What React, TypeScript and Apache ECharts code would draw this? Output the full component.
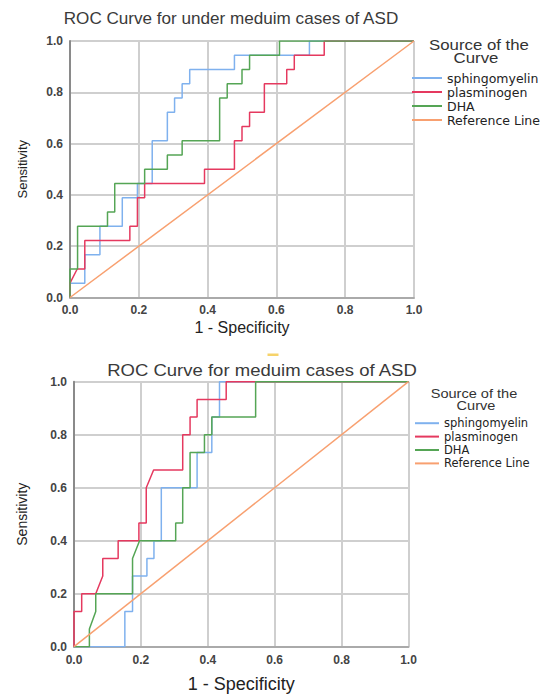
import React, { useEffect, useRef } from "react";
import * as echarts from "echarts";

// ---------- data ----------
const legendNames = ["sphingomyelin", "plasminogen", "DHA", "Reference Line"];
const tickStep = 0.2;

// Top chart: ROC Curve for under meduim cases of ASD  ([1 - specificity, sensitivity])
const underSphingomyelin: [number, number][] = [
  [0, 0], [0, 0.056], [0.043, 0.056], [0.043, 0.167], [0.087, 0.167], [0.087, 0.278],
  [0.152, 0.278], [0.152, 0.389], [0.196, 0.389], [0.196, 0.444], [0.239, 0.444],
  [0.239, 0.611], [0.283, 0.611], [0.283, 0.722], [0.304, 0.722], [0.304, 0.778],
  [0.326, 0.778], [0.326, 0.833], [0.348, 0.833], [0.348, 0.889], [0.478, 0.889],
  [0.478, 0.944], [0.696, 0.944], [0.696, 1], [1, 1],
];
const underPlasminogen: [number, number][] = [
  [0, 0], [0, 0.056], [0.021, 0.111], [0.043, 0.111], [0.043, 0.222], [0.174, 0.222],
  [0.174, 0.278], [0.196, 0.278], [0.196, 0.389], [0.217, 0.389], [0.217, 0.444],
  [0.391, 0.444], [0.391, 0.5], [0.478, 0.5], [0.478, 0.611], [0.5, 0.611], [0.5, 0.667],
  [0.522, 0.667], [0.522, 0.722], [0.565, 0.722], [0.565, 0.833], [0.63, 0.833],
  [0.63, 0.889], [0.652, 0.889], [0.652, 0.944], [0.739, 0.944], [0.739, 1], [1, 1],
];
const underDHA: [number, number][] = [
  [0, 0], [0, 0.111], [0.022, 0.111], [0.022, 0.278], [0.109, 0.278], [0.109, 0.333],
  [0.13, 0.333], [0.13, 0.444], [0.217, 0.444], [0.217, 0.5], [0.283, 0.5], [0.283, 0.556],
  [0.326, 0.556], [0.326, 0.611], [0.435, 0.611], [0.435, 0.778], [0.457, 0.778],
  [0.457, 0.833], [0.5, 0.833], [0.5, 0.889], [0.522, 0.889], [0.522, 0.944],
  [0.609, 0.944], [0.609, 1], [1, 1],
];

// Bottom chart: ROC Curve for meduim cases of ASD
const medSphingomyelin: [number, number][] = [
  [0, 0], [0.152, 0], [0.152, 0.133], [0.175, 0.133], [0.175, 0.267], [0.218, 0.267],
  [0.218, 0.333], [0.239, 0.333], [0.239, 0.4], [0.261, 0.4], [0.261, 0.6], [0.368, 0.6],
  [0.368, 0.733], [0.412, 0.733], [0.412, 0.867], [0.435, 0.867], [0.435, 1], [1, 1],
];
const medPlasminogen: [number, number][] = [
  [0, 0], [0, 0.133], [0.023, 0.133], [0.023, 0.2], [0.065, 0.2], [0.086, 0.267],
  [0.086, 0.333], [0.132, 0.333], [0.132, 0.4], [0.194, 0.4], [0.194, 0.467],
  [0.216, 0.467], [0.216, 0.6], [0.238, 0.667], [0.325, 0.667], [0.325, 0.8],
  [0.347, 0.8], [0.347, 0.867], [0.368, 0.867], [0.368, 0.933], [0.455, 0.933],
  [0.455, 1], [1, 1],
];
const medDHA: [number, number][] = [
  [0, 0], [0.046, 0], [0.046, 0.067], [0.065, 0.133], [0.065, 0.2], [0.175, 0.2],
  [0.175, 0.333], [0.196, 0.4], [0.304, 0.4], [0.304, 0.467], [0.325, 0.467],
  [0.325, 0.6], [0.347, 0.6], [0.347, 0.733], [0.39, 0.733], [0.39, 0.8], [0.412, 0.8],
  [0.412, 0.867], [0.543, 0.867], [0.543, 1], [1, 1],
];

const referenceLine: [number, number][] = [[0, 0], [1, 1]];

const seriesColors = ["#7fb1ee", "#e5395f", "#55a555", "#f8a070"];

const FONT = "Liberation Sans";

function makeX(gridIndex: number, nameGap: number, nameSize: number, labelMargin: number) {
  return {
    type: "value",
    gridIndex,
    min: 0,
    max: 1,
    interval: tickStep,
    name: "1 - Specificity",
    nameLocation: "middle",
    nameGap,
    nameTextStyle: { fontSize: nameSize, color: "#222", fontFamily: FONT },
    axisLine: { show: true, onZero: false, lineStyle: { color: "#aaaaaa", width: 2 } },
    axisTick: { show: false },
    axisLabel: {
      formatter: (v: number) => v.toFixed(1),
      margin: labelMargin,
      fontSize: 12,
      fontWeight: "bold",
      color: "#444",
      fontFamily: FONT,
    },
    splitLine: { show: true, lineStyle: { color: "#cfcfcf", width: 2 } },
  };
}

function makeY(gridIndex: number, nameGap: number, nameSize: number) {
  return {
    type: "value",
    gridIndex,
    min: 0,
    max: 1,
    interval: tickStep,
    name: "Sensitivity",
    nameLocation: "middle",
    nameGap,
    nameTextStyle: { fontSize: nameSize, color: "#222", fontFamily: FONT },
    axisLine: { show: true, onZero: false, lineStyle: { color: "#8a8a8a", width: 2 } },
    axisTick: { show: false },
    axisLabel: {
      formatter: (v: number) => v.toFixed(1),
      margin: 7,
      fontSize: 12,
      fontWeight: "bold",
      color: "#444",
      fontFamily: FONT,
    },
    splitLine: { show: true, lineStyle: { color: "#cfcfcf", width: 2 } },
  };
}

function makeSeries(name: string, data: [number, number][], idx: number, color: string) {
  return {
    type: "line",
    name,
    xAxisIndex: idx,
    yAxisIndex: idx,
    data,
    showSymbol: false,
    symbol: "none",
    lineStyle: { width: 1.5, color },
    itemStyle: { color },
    z: 3,
  };
}

function headerText(text: string, x: number, y: number, size: number, scaleX: number, color = "#333") {
  return {
    type: "text",
    x,
    y,
    scaleX,
    style: {
      text,
      fontSize: size,
      fontFamily: FONT,
      fill: color,
      align: "center",
      verticalAlign: "middle",
      textAlign: "center",
      textVerticalAlign: "middle",
    },
  };
}

export default function App() {
  const ref = useRef<HTMLDivElement>(null);

  useEffect(() => {
    if (!ref.current) return;
    const chart = echarts.init(ref.current, null, { renderer: "svg" });
    const topSets = [underSphingomyelin, underPlasminogen, underDHA, referenceLine];
    const botSets = [medSphingomyelin, medPlasminogen, medDHA, referenceLine];
    const series: any[] = [];
    topSets.forEach((d, i) => series.push(makeSeries(legendNames[i], d, 0, seriesColors[i])));
    botSets.forEach((d, i) => series.push(makeSeries(legendNames[i], d, 1, seriesColors[i])));

    chart.setOption({
      animation: false,
      backgroundColor: "#ffffff",
      grid: [
        { left: 70, top: 41, width: 344, height: 256.5 },
        { left: 74, top: 381.7, width: 334.5, height: 265 },
      ],
      xAxis: [makeX(0, 22, 16, 6), makeX(1, 28, 18, 7)],
      yAxis: [makeY(0, 41, 13), makeY(1, 45, 14)],
      legend: [
        {
          orient: "vertical",
          left: 412,
          top: 71,
          padding: 0,
          itemWidth: 30,
          itemHeight: 2,
          itemGap: 0,
          icon: "rect",
          selectedMode: false,
          textStyle: { fontSize: 12.5, fontFamily: "DejaVu Sans", color: "#222", lineHeight: 14 },
          data: legendNames,
        },
        {
          orient: "vertical",
          left: 415,
          top: 416.5,
          padding: 0,
          itemWidth: 24,
          itemHeight: 2,
          itemGap: 0,
          icon: "rect",
          selectedMode: false,
          textStyle: { fontSize: 11.5, fontFamily: "DejaVu Sans", color: "#222", lineHeight: 13.4 },
          data: legendNames,
        },
      ],
      graphic: [
        headerText("ROC Curve for under meduim cases of ASD", 231, 19, 16, 1.07, "#3a3a3a"),
        headerText("ROC Curve for meduim cases of ASD", 262, 370, 17, 1.09, "#3a3a3a"),
        headerText("Source of the", 479, 45, 15, 1.12),
        headerText("Curve", 476, 58, 15, 1.12),
        headerText("Source of the", 474, 394, 13, 1.12),
        headerText("Curve", 476, 406, 13, 1.12),
        {
          type: "rect",
          shape: { x: 267.5, y: 353.5, width: 11, height: 2.5 },
          style: { fill: "#f6d36a" },
        },
      ],
      series,
    });
    return () => chart.dispose();
  }, []);

  return (
    <div
      ref={ref}
      style={{ position: "absolute", left: 0, top: 0, width: 544, height: 694, background: "#fff" }}
    />
  );
}
